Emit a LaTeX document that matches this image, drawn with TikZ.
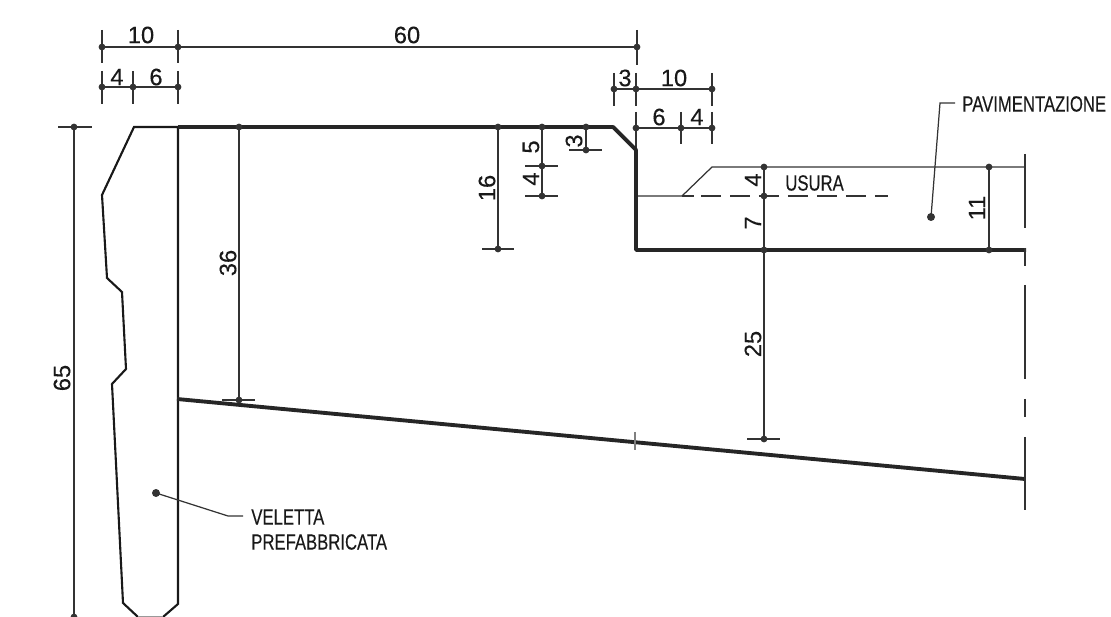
\documentclass[tikz,border=0pt]{standalone}
\usepackage{fontspec}
\setmainfont{Liberation Sans}
\newfontfamily\dimfont[FakeBold=0.25]{Liberation Sans}
\newfontfamily\notefont[FakeStretch=0.76,FakeBold=0.3]{Liberation Sans}
\tikzset{
	profile/.style={line width=1.2pt, black!90},
	heavy/.style={line width=2.2pt, black!85},
	dimline/.style={line width=0.7pt, black!80},
	dimdot/.style={fill=black!80, draw=none},
	dimnum/.style={inner sep=0pt, black!90, font=\dimfont\fontsize{13.5}{16}\selectfont},
	dimnumv/.style={dimnum, rotate=90},
	note/.style={inner sep=0pt, anchor=west, black!90, font=\notefont\fontsize{12.5}{15}\selectfont}
}

\begin{document}
\begin{tikzpicture}[x=0.02cm, y=-0.02cm]
	\useasboundingbox (0,0) rectangle (1111,617);

	% top dimensions, left
	\draw[dimline] (102,47) -- (637,47);
	\draw[dimline] (102,30) -- (102,63);
	\draw[dimline] (178,30) -- (178,63);
	\draw[dimline] (637,30) -- (637,65);
	\draw[dimdot] (102,47) circle (3.4);
	\draw[dimdot] (178,47) circle (3.4);
	\draw[dimdot] (637,47) circle (3.4);
	\node[dimnum] (num10a) at (141,35) {10};
	\node[dimnum] (num60) at (407,35) {60};

	\draw[dimline] (102,87) -- (178,87);
	\draw[dimline] (102,71) -- (102,104);
	\draw[dimline] (133,71) -- (133,104);
	\draw[dimline] (178,71) -- (178,104);
	\draw[dimdot] (102,87) circle (3.4);
	\draw[dimdot] (133,87) circle (3.4);
	\draw[dimdot] (178,87) circle (3.4);
	\node[dimnum] (num4a) at (117,77) {4};
	\node[dimnum] (num6a) at (156,77) {6};

	% top dimensions, right
	\draw[dimline] (614,89) -- (712,89);
	\draw[dimline] (614,73) -- (614,106);
	\draw[dimline] (636,73) -- (636,106);
	\draw[dimline] (712,73) -- (712,106);
	\draw[dimdot] (614,89) circle (3.4);
	\draw[dimdot] (636,89) circle (3.4);
	\draw[dimdot] (712,89) circle (3.4);
	\node[dimnum] (num3a) at (625,78) {3};
	\node[dimnum] (num10b) at (674,78) {10};

	\draw[dimline] (636,128) -- (712,128);
	\draw[dimline] (636,112) -- (636,150);
	\draw[dimline] (681,112) -- (681,144);
	\draw[dimline] (712,112) -- (712,144);
	\draw[dimdot] (636,128) circle (3.4);
	\draw[dimdot] (681,128) circle (3.4);
	\draw[dimdot] (712,128) circle (3.4);
	\node[dimnum] (num6b) at (659,117) {6};
	\node[dimnum] (num4b) at (697,117) {4};

	% precast edge beam
	\draw[profile] (138,617) -- (123,603) -- (112,384) -- (126,369) -- (122,292) -- (107,278) -- (102,195) -- (134,127) -- (178,127) -- (178,604) -- (163,617);
	\draw[dimline, black!40] (138,616.5) -- (163,616.5);

	% deck
	\draw[heavy, line join=round] (178,127) -- (613,127) -- (636,150) -- (636,250) -- (1026,250);
	\draw[heavy] (177,399) -- (1025,479);
	\draw[dimline, black!50] (635,432) -- (635,450);

	% height of the edge beam
	\draw[dimline] (74,127) -- (74,617);
	\draw[dimline] (58,127) -- (92,127);
	\draw[dimdot] (74,127) circle (3.4);
	\draw[dimdot] (74,617) circle (3.4);
	\node[dimnumv] (num65) at (62,378) {65};

	% deck dimensions
	\draw[dimline] (239,127) -- (239,400);
	\draw[dimline] (222,400) -- (255,400);
	\draw[dimdot] (239,127) circle (3.4);
	\draw[dimdot] (239,400) circle (3.4);
	\node[dimnumv] (num36) at (228,263) {36};

	\draw[dimline] (498,127) -- (498,249);
	\draw[dimline] (482,249) -- (514,249);
	\draw[dimdot] (498,127) circle (3.4);
	\draw[dimdot] (498,249) circle (3.4);
	\node[dimnumv] (num16) at (487,188) {16};

	\draw[dimline] (542,127) -- (542,196);
	\draw[dimline] (525,166) -- (558,166);
	\draw[dimline] (525,196) -- (558,196);
	\draw[dimdot] (542,127) circle (3.4);
	\draw[dimdot] (542,166) circle (3.4);
	\draw[dimdot] (542,196) circle (3.4);
	\node[dimnumv] (num5) at (531,147) {5};
	\node[dimnumv] (num4c) at (531,179) {4};

	\draw[dimline] (586,127) -- (586,150);
	\draw[dimline] (569,150) -- (602,150);
	\draw[dimdot] (586,127) circle (3.4);
	\draw[dimdot] (586,150) circle (3.4);
	\node[dimnumv] (num3b) at (574,141) {3};

	% paving layers
	\draw[dimline] (638,196) -- (682,196) -- (712,167) -- (1025,167);
	\draw[dimline] (682,196) -- (694,196);
	\draw[dimline, dash pattern=on 11.4pt off 5.1pt] (701,196) -- (888,196);
	\node[note] (usura) at (785,183) {USURA};

	\draw[dimline] (764,167) -- (764,439);
	\draw[dimline] (747,439) -- (780,439);
	\draw[dimdot] (764,167) circle (3.4);
	\draw[dimdot] (764,196) circle (3.4);
	\draw[dimdot] (764,250) circle (3.4);
	\draw[dimdot] (764,439) circle (3.4);
	\node[dimnumv] (num4d) at (753,180) {4};
	\node[dimnumv] (num7) at (753,223) {7};
	\node[dimnumv] (num25) at (753,344) {25};

	\draw[dimline] (989,167) -- (989,250);
	\draw[dimdot] (989,167) circle (3.4);
	\draw[dimdot] (989,250) circle (3.4);
	\node[dimnumv] (num11) at (977,208) {11};

	% break line on the right
	\draw[dimline] (1025,154) -- (1025,228);
	\draw[dimline] (1025,248) -- (1025,266);
	\draw[dimline] (1025,285) -- (1025,379);
	\draw[dimline] (1025,399) -- (1025,417);
	\draw[dimline] (1025,437) -- (1025,510);

	% callouts
	\node[note] (pavlabel) at (962,104) {PAVIMENTAZIONE};
	\coordinate (pavdot) at (931,217);
	\draw[dimline] (pavdot) -- (940,103) -- (955,103);
	\draw[dimdot] (pavdot) circle (4);

	\node[note] (vellabel) at (251,517) {VELETTA};
	\node[note] (prelabel) at (251,542) {PREFABBRICATA};
	\coordinate (veldot) at (156,493);
	\draw[dimline] (veldot) -- (228,516) -- (243,516);
	\draw[dimdot] (veldot) circle (4);
\end{tikzpicture}
\end{document}
